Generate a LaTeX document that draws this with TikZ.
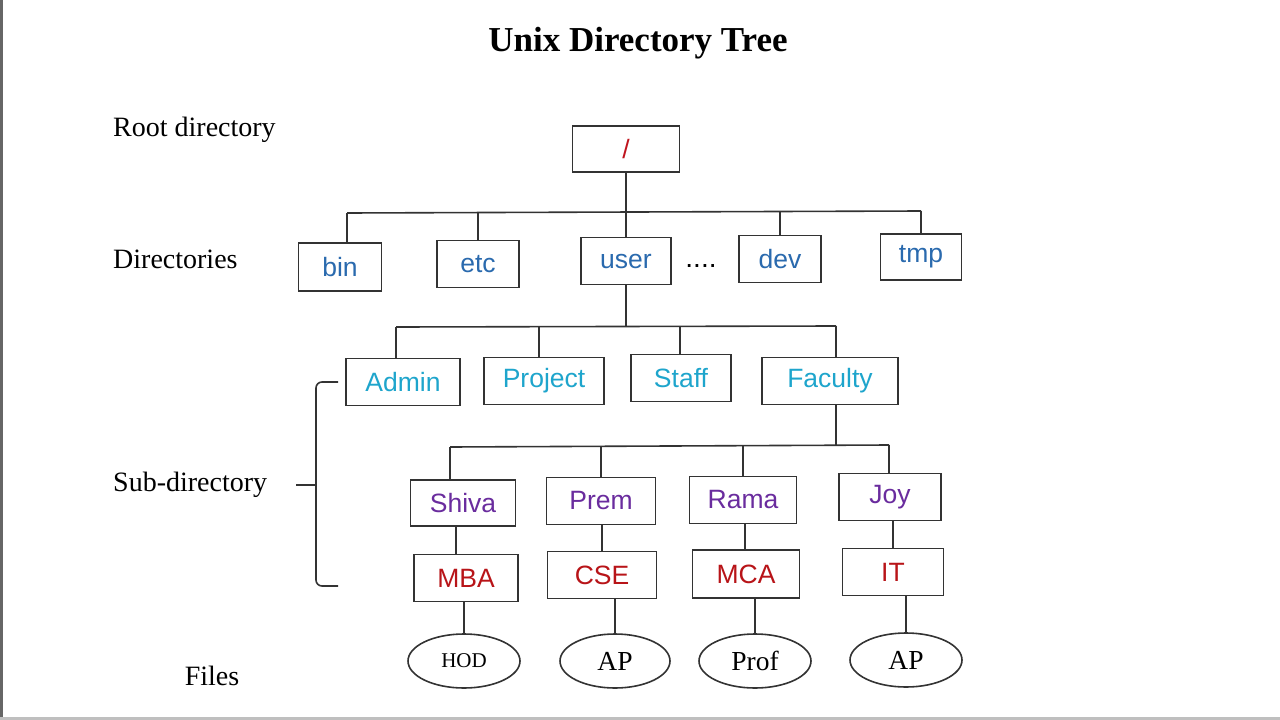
\documentclass[tikz,border=0pt]{standalone}
\usepackage{fontspec}
\setmainfont{Liberation Serif}
\newfontfamily\sansf{Liberation Sans}
\usetikzlibrary{shapes.geometric}
\definecolor{rootred}{HTML}{C0141E}
\definecolor{dirblue}{HTML}{2A6AAE}
\definecolor{subcyan}{HTML}{1EA5CC}
\definecolor{userpurple}{HTML}{6A2C9E}
\definecolor{deptred}{HTML}{B81418}
\definecolor{linegray}{HTML}{333333}
\tikzset{
  box/.style={draw=linegray, line width=1.6pt, fill=white, inner sep=0pt, font=\sansf\fontsize{26.5}{28}\selectfont},
  file/.style={ellipse, draw=linegray, line width=1.6pt, inner sep=0pt, font=\fontsize{27.5}{29}\selectfont},
  lbl/.style={anchor=west, font=\fontsize{28}{30}\selectfont, inner sep=0pt},
  conn/.style={draw=linegray, line width=1.6pt},
}
\begin{document}
\begin{tikzpicture}[x=1pt,y=-1pt]
\useasboundingbox (0,0) rectangle (1280,720);
\fill[white] (0,0) rectangle (1280,720);
\draw[black!60, line width=3pt] (1.5,0) -- (1.5,720);
\draw[black!25, line width=3pt] (0,718.5) -- (1280,718.5);

% title and labels
\node[font=\bfseries\fontsize{35}{38}\selectfont] (title) at (638,43) {Unix Directory Tree};
\node[lbl] (lroot) at (113,130) {Root directory};
\node[lbl] (ldir) at (113,259) {Directories};
\node[lbl] (lsub) at (113,485) {Sub-directory};
\node[font=\fontsize{28}{30}\selectfont] (lfiles) at (212,676) {Files};

% root
\node[box, minimum width=107pt, minimum height=46pt, text=rootred] (root) at (626,149) {/};

% directories
\node[box, minimum width=83pt, minimum height=48pt, text=dirblue] (bin) at (340,267) {bin};
\node[box, minimum width=82pt, minimum height=47pt, text=dirblue] (etc) at (478,264) {etc};
\node[box, minimum width=90pt, minimum height=47pt, text=dirblue] (user) at (626,261) {user};
\node[font=\sansf\fontsize{28}{30}\selectfont] (dots) at (701,266) {....};
\node[box, minimum width=82pt, minimum height=47pt, text=dirblue] (dev) at (780,259) {dev};
\node[box, minimum width=81pt, minimum height=46pt, text=dirblue] (tmp) at (921,257) {tmp};

% sub-directories
\node[box, minimum width=114pt, minimum height=47pt, text=subcyan] (admin) at (403,382) {Admin};
\node[box, minimum width=120pt, minimum height=47pt, text=subcyan] (project) at (544,381) {Project};
\node[box, minimum width=100pt, minimum height=47pt, text=subcyan] (staff) at (681,378) {Staff};
\node[box, minimum width=136pt, minimum height=47pt, text=subcyan] (faculty) at (830,381) {Faculty};

% users
\node[box, minimum width=105pt, minimum height=46pt, text=userpurple] (shiva) at (463,503) {Shiva};
\node[box, minimum width=109pt, minimum height=47pt, text=userpurple] (prem) at (601,501) {Prem};
\node[box, minimum width=107pt, minimum height=47pt, text=userpurple] (rama) at (743,500) {Rama};
\node[box, minimum width=102pt, minimum height=47pt, text=userpurple] (joy) at (890,497) {Joy};

% departments
\node[box, minimum width=104pt, minimum height=47pt, text=deptred] (mba) at (466,578) {MBA};
\node[box, minimum width=109pt, minimum height=47pt, text=deptred] (cse) at (602,575) {CSE};
\node[box, minimum width=107pt, minimum height=48pt, text=deptred] (mca) at (746,574) {MCA};
\node[box, minimum width=101pt, minimum height=47pt, text=deptred] (it) at (893,572) {IT};

% files
\node[file, minimum width=112pt, minimum height=54pt, font=\fontsize{21}{23}\selectfont] (hod) at (464,661) {HOD};
\node[file, minimum width=110pt, minimum height=54pt] (ap1) at (615,661) {AP};
\node[file, minimum width=112pt, minimum height=54pt] (prof) at (755,661) {Prof};
\node[file, minimum width=112pt, minimum height=54pt] (ap2) at (906,660) {AP};

% level 1 connectors
\coordinate (b1L) at (347,213);
\coordinate (b1R) at (921,211);
\coordinate (b1M) at (626,212);
\draw[conn] (b1L) -- (b1R);
\draw[conn] (root) -- (b1M);
\draw[conn] (b1L) -- (bin.north -| b1L);
\draw[conn] (etc.north |- b1M) -- (etc.north);
\draw[conn] (b1M) -- (user.north);
\draw[conn] (dev.north |- b1M) -- (dev.north);
\draw[conn] (b1R) -- (tmp.north);

% level 2 connectors
\coordinate (b2L) at (396,327);
\coordinate (b2R) at (836,326);
\coordinate (b2M) at (626,326);
\coordinate (b2P) at (539,326);
\coordinate (b2S) at (680,326);
\draw[conn] (b2L) -- (b2R);
\draw[conn] (user) -- (b2M);
\draw[conn] (b2L) -- (admin.north -| b2L);
\draw[conn] (b2P) -- (project.north -| b2P);
\draw[conn] (b2S) -- (staff.north -| b2S);
\draw[conn] (b2R) -- (faculty.north -| b2R);

% level 3 connectors
\coordinate (b3L) at (450,447);
\coordinate (b3R) at (889,445);
\coordinate (b3F) at (836,446);
\coordinate (b3P) at (601,446);
\coordinate (b3M) at (743,446);
\draw[conn] (b3L) -- (b3R);
\draw[conn] (faculty.south -| b3F) -- (b3F);
\draw[conn] (b3L) -- (shiva.north -| b3L);
\draw[conn] (b3P) -- (prem.north -| b3P);
\draw[conn] (b3M) -- (rama.north -| b3M);
\draw[conn] (b3R) -- (joy.north -| b3R);

% user to department
\coordinate (c1) at (456,0);
\draw[conn] (shiva.south -| c1) -- (mba.north -| c1);
\draw[conn] (prem.south -| cse.north) -- (cse.north);
\coordinate (c3) at (745,0);
\draw[conn] (rama.south -| c3) -- (mca.north -| c3);
\coordinate (c4) at (893,0);
\draw[conn] (joy.south -| c4) -- (it.north -| c4);

% department to files
\draw[conn] (mba.south -| hod.north) -- (hod.north);
\draw[conn] (cse.south -| ap1.north) -- (ap1.north);
\draw[conn] (mca.south -| prof.north) -- (prof.north);
\draw[conn] (it.south -| ap2.north) -- (ap2.north);

% brace
\coordinate (brTop) at (338,382);
\coordinate (brBot) at (338,586);
\coordinate (brTip) at (296,485);
\draw[conn, rounded corners=6pt] (brTop) -- (316,382) -- (316,586) -- (brBot);
\draw[conn] (brTip) -- (316,485);
\end{tikzpicture}
\end{document}
